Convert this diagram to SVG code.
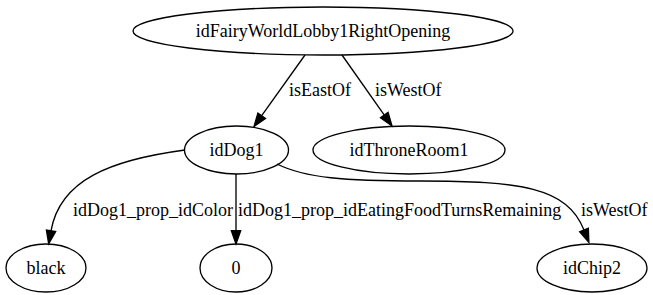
<svg xmlns="http://www.w3.org/2000/svg" width="653" height="295" viewBox="0 0 653 295">
  <style>
    .node ellipse { fill: none; stroke: #000; stroke-width: 1.33; }
    .lbl { font-family: "Liberation Serif", "Times New Roman", Times, serif; font-size: 18px; fill: #000; }
    .node text { text-anchor: middle; }
    .edge path { fill: none; stroke: #000; stroke-width: 1.33; marker-end: url(#arrow); }
  </style>
  <defs>
    <marker id="arrow" markerUnits="userSpaceOnUse" markerWidth="14" markerHeight="10" refX="0" refY="4.67" orient="auto" overflow="visible">
      <polygon points="0,0 13.3,4.67 0,9.33" fill="#000" stroke="#000" stroke-width="1.33"/>
    </marker>
  </defs>
  <rect width="653" height="295" fill="#fff"/>

  <g id="edges">
    <g class="edge" id="e_lobby_dog">
      <path d="M305,55 L261.7,115.7"/>
      <text class="lbl" x="289" y="96">isEastOf</text>
    </g>
    <g class="edge" id="e_lobby_throne">
      <path d="M342,55 L384.3,115.1"/>
      <text class="lbl" x="375" y="96">isWestOf</text>
    </g>
    <g class="edge" id="e_dog_black">
      <path d="M185,150 C110,160 60,180 51,230.8"/>
      <text class="lbl" x="73" y="216">idDog1_prop_idColor</text>
    </g>
    <g class="edge" id="e_dog_zero">
      <path d="M236,174 L236,230.7"/>
      <text class="lbl" x="238" y="216">idDog1_prop_idEatingFoodTurnsRemaining</text>
    </g>
    <g class="edge" id="e_dog_chip">
      <path d="M277,164 C305,178 345,181 420,181 C520,181 567,187 584,230"/>
      <text class="lbl" x="581" y="216">isWestOf</text>
    </g>
  </g>

  <g class="node" id="idFairyWorldLobby1RightOpening">
    <ellipse cx="323" cy="31" rx="190" ry="24"/>
    <text class="lbl" x="323" y="37">idFairyWorldLobby1RightOpening</text>
  </g>
  <g class="node" id="idDog1">
    <ellipse cx="236.5" cy="150" rx="52" ry="24"/>
    <text class="lbl" x="236.5" y="156">idDog1</text>
  </g>
  <g class="node" id="idThroneRoom1">
    <ellipse cx="409" cy="150" rx="96" ry="24"/>
    <text class="lbl" x="409" y="156">idThroneRoom1</text>
  </g>
  <g class="node" id="black">
    <ellipse cx="46" cy="268" rx="40" ry="24"/>
    <text class="lbl" x="46" y="274">black</text>
  </g>
  <g class="node" id="zero">
    <ellipse cx="236" cy="268" rx="36" ry="24"/>
    <text class="lbl" x="236" y="274">0</text>
  </g>
  <g class="node" id="idChip2">
    <ellipse cx="592" cy="268" rx="55" ry="24"/>
    <text class="lbl" x="592" y="274">idChip2</text>
  </g>
</svg>
